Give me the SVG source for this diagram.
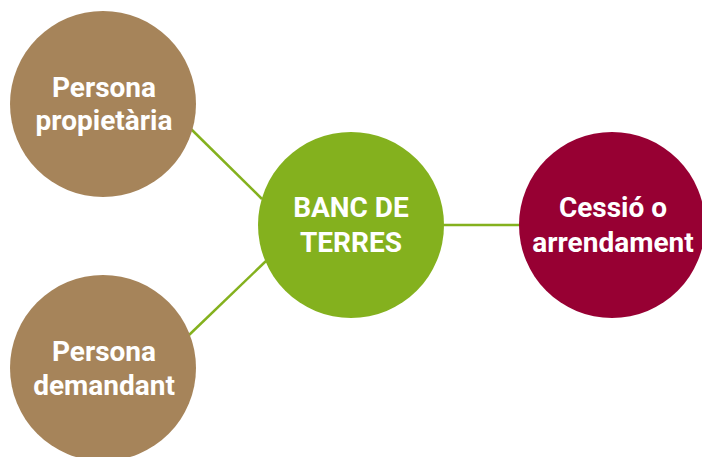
<svg xmlns="http://www.w3.org/2000/svg" width="702" height="457" viewBox="0 0 702 457">
<style>
.lbl{font-family:Roboto,"Liberation Sans",sans-serif;font-weight:bold;font-size:28px;fill:#ffffff;text-anchor:middle}
.con{stroke:#84B11E;stroke-width:2.5;fill:none}
</style>
<rect width="702" height="457" fill="#ffffff"/>
<g id="connectors">
<line class="con" x1="190" y1="128" x2="262" y2="199"/>
<line class="con" x1="188" y1="336" x2="266" y2="261"/>
<line class="con" x1="443" y1="225" x2="520" y2="225"/>
</g>
<g id="persona-propietaria">
<circle cx="103" cy="104" r="93" fill="#A6845A"/>
<text class="lbl" x="104" y="97">Persona</text>
<text class="lbl" x="104" y="130">propietària</text>
</g>
<g id="persona-demandant">
<circle cx="103" cy="368" r="93" fill="#A6845A"/>
<text class="lbl" x="104" y="361">Persona</text>
<text class="lbl" x="104" y="395">demandant</text>
</g>
<g id="banc-de-terres">
<circle cx="351" cy="225" r="93" fill="#84B11E"/>
<text class="lbl" x="351" y="217">BANC DE</text>
<text class="lbl" x="351" y="252">TERRES</text>
</g>
<g id="cessio">
<circle cx="612" cy="225" r="93" fill="#970033"/>
<text class="lbl" x="613" y="217">Cessió o</text>
<text class="lbl" x="613" y="252">arrendament</text>
</g>
</svg>
